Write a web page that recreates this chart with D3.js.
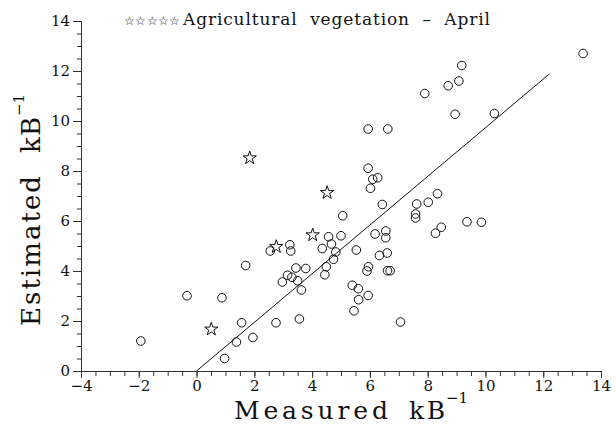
<!DOCTYPE html>
<html>
<head>
<meta charset="utf-8">
<script src="https://cdn.jsdelivr.net/npm/d3@7"></script>
<style>
  html, body { margin: 0; padding: 0; background: #fff; }
  svg { display: block; }
  text { font-family: "DejaVu Serif", "Liberation Serif", serif; fill: #111; }
</style>
</head>
<body>
<svg id="chart" width="616" height="427"></svg>
<script>
// ---- data ----
const circleX = [-1.93, -0.33, 0.88, 0.97, 1.38, 1.56, 1.95, 1.70, 2.55, 3.23, 3.26, 2.75, 3.56, 2.97, 3.15, 3.30, 3.44, 3.50, 3.63, 3.78,
  4.35, 4.57, 4.67, 4.49, 4.44, 4.82, 4.74, 5.00, 5.06, 5.53, 6.18, 6.55, 6.55, 6.60, 6.33, 5.95, 5.90, 6.61, 6.70, 5.39,
  5.60, 5.94, 5.61, 5.45, 7.06, 6.43, 6.02, 6.10, 6.27, 5.94, 5.94, 6.62, 7.62, 7.58, 7.58, 8.02, 8.34, 8.47, 8.27, 9.36,
  9.86, 7.90, 8.71, 9.08, 9.18, 8.95, 10.31, 13.38];
const circleY = [1.20, 3.01, 2.93, 0.50, 1.16, 1.93, 1.34, 4.22, 4.80, 5.05, 4.80, 1.93, 2.08, 3.56, 3.83, 3.75, 4.12, 3.61, 3.24, 4.10,
  4.90, 5.37, 5.08, 4.17, 3.85, 4.76, 4.47, 5.41, 6.21, 4.84, 5.48, 5.60, 5.33, 4.72, 4.62, 4.17, 4.00, 4.01, 4.01, 3.43,
  3.29, 3.02, 2.85, 2.41, 1.96, 6.66, 7.31, 7.67, 7.73, 8.11, 9.68, 9.68, 6.68, 6.28, 6.12, 6.75, 7.09, 5.75, 5.51, 5.97,
  5.95, 11.10, 11.41, 11.60, 12.22, 10.27, 10.30, 12.70];
const starX = [0.51, 1.84, 2.76, 4.02, 4.52];
const starY = [1.67, 8.52, 4.97, 5.44, 7.13];
const lineX = [0, 12.22];
const lineY = [0, 11.89];
const xTicks = [-4, -2, 0, 2, 4, 6, 8, 10, 12, 14];
const yTicks = [0, 2, 4, 6, 8, 10, 12, 14];
const xMinor = d3.range(-4, 14.01, 0.5);
const yMinor = d3.range(0, 14.01, 0.5);
const titleStars = "☆☆☆☆☆";
const titleText = "Agricultural  vegetation  –  April";
const xLabel = "Measured";
const yLabel = "Estimated";
const unitText = "kB";
const supText = "−1";

// ---- scales ----
const svg = d3.select("#chart");
const x = d3.scaleLinear().domain([-4, 14]).range([81, 601]);
const y = d3.scaleLinear().domain([0, 14]).range([371, 21]);

// ---- axes ----
const axisColor = "#333";
function styleAxis(g) {
  g.selectAll(".domain").attr("stroke", axisColor).attr("stroke-width", 1);
  g.selectAll(".tick line").attr("stroke", axisColor);
  g.selectAll(".tick text").attr("font-family", "DejaVu Serif").attr("font-size", 15).attr("fill", "#111");
}
const gxm = svg.append("g").attr("transform", `translate(0,${y(0)})`)
  .call(d3.axisBottom(x).tickValues(xMinor).tickSize(5).tickFormat(""));
gxm.selectAll(".tick text").remove();
styleAxis(gxm);
const gx = svg.append("g").attr("transform", `translate(0,${y(0)})`)
  .call(d3.axisBottom(x).tickValues(xTicks).tickSize(7).tickPadding(2));
styleAxis(gx);

const gym = svg.append("g").attr("transform", `translate(${x(-4)},0)`)
  .call(d3.axisLeft(y).tickValues(yMinor).tickSize(4).tickFormat(""));
gym.selectAll(".tick text").remove();
styleAxis(gym);
const gy = svg.append("g").attr("transform", `translate(${x(-4)},0)`)
  .call(d3.axisLeft(y).tickValues(yTicks).tickSize(8).tickPadding(3));
styleAxis(gy);

// ---- fitted line ----
svg.append("line")
  .attr("x1", x(lineX[0])).attr("y1", y(lineY[0]))
  .attr("x2", x(lineX[1])).attr("y2", y(lineY[1]))
  .attr("stroke", "#111").attr("stroke-width", 1);

// ---- circles ----
svg.append("g").selectAll("circle")
  .data(circleX.map((v, i) => [v, circleY[i]]))
  .join("circle")
  .attr("cx", d => x(d[0])).attr("cy", d => y(d[1]))
  .attr("r", 4.3)
  .attr("fill", "none").attr("stroke", "#111").attr("stroke-width", 1);

// ---- stars ----
const star = d3.symbol().type(d3.symbolStar).size(55);
svg.append("g").selectAll("path")
  .data(starX.map((v, i) => [v, starY[i]]))
  .join("path")
  .attr("d", star)
  .attr("transform", d => `translate(${x(d[0])},${y(d[1])})`)
  .attr("fill", "none").attr("stroke", "#111").attr("stroke-width", 1);

// ---- title ----
svg.append("text")
  .attr("x", 124).attr("y", 25)
  .attr("font-family", "DejaVu Sans").attr("font-size", 12)
  .attr("letter-spacing", 0.3)
  .text(titleStars);
svg.append("text")
  .attr("x", 183).attr("y", 25)
  .attr("font-size", 17)
  .attr("textLength", 307).attr("lengthAdjust", "spacing")
  .attr("xml:space", "preserve")
  .style("white-space", "pre")
  .text(titleText);

// ---- x axis label ----
const xl = svg.append("g");
xl.append("text").attr("x", 234).attr("y", 419).attr("font-size", 25)
  .attr("textLength", 154).attr("lengthAdjust", "spacing").text(xLabel);
xl.append("text").attr("x", 409).attr("y", 419).attr("font-size", 25)
  .attr("textLength", 36).attr("lengthAdjust", "spacing").text(unitText);
xl.append("text").attr("x", 446).attr("y", 403).attr("font-size", 15).text(supText);

// ---- y axis label ----
const yl = svg.append("g").attr("transform", "translate(40,0) rotate(-90)");
yl.append("text").attr("x", -326).attr("y", 0).attr("font-size", 26)
  .attr("textLength", 150).attr("lengthAdjust", "spacing").text(yLabel);
yl.append("text").attr("x", -153).attr("y", 0).attr("font-size", 26)
  .attr("textLength", 36).attr("lengthAdjust", "spacing").text(unitText);
yl.append("text").attr("x", -116).attr("y", -16).attr("font-size", 15).text(supText);
</script>
</body>
</html>
